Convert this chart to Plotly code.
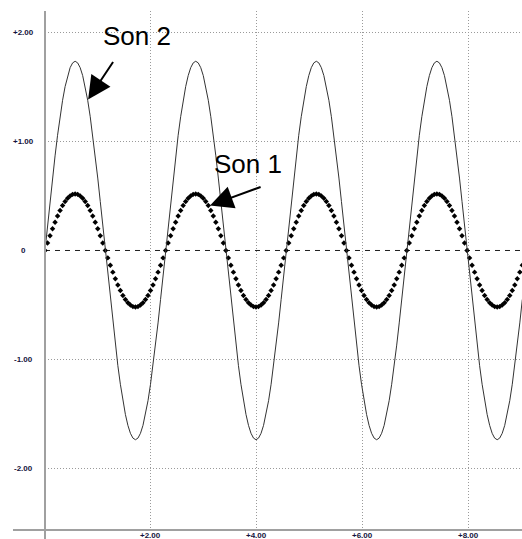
import plotly.graph_objects as go

# Sample spacing of both recordings (time axis)
t_step = 0.0475

# Son 1 : low-amplitude tone, drawn as a dotted trace
son1 = [
    0, 0.068, 0.135, 0.199, 0.26, 0.317, 0.368, 0.413, 0.45, 0.48, 0.502, 0.516,
    0.52, 0.516, 0.502, 0.48, 0.45, 0.413, 0.368, 0.317, 0.26, 0.199, 0.135, 0.068,
    0, -0.068, -0.135, -0.199, -0.26, -0.317, -0.368, -0.413, -0.45, -0.48, -0.502, -0.516,
    -0.52, -0.516, -0.502, -0.48, -0.45, -0.413, -0.368, -0.317, -0.26, -0.199, -0.135, -0.068,
    0, 0.068, 0.135, 0.199, 0.26, 0.317, 0.368, 0.413, 0.45, 0.48, 0.502, 0.516,
    0.52, 0.516, 0.502, 0.48, 0.45, 0.413, 0.368, 0.317, 0.26, 0.199, 0.135, 0.068,
    0, -0.068, -0.135, -0.199, -0.26, -0.317, -0.368, -0.413, -0.45, -0.48, -0.502, -0.516,
    -0.52, -0.516, -0.502, -0.48, -0.45, -0.413, -0.368, -0.317, -0.26, -0.199, -0.135, -0.068,
    0, 0.068, 0.135, 0.199, 0.26, 0.317, 0.368, 0.413, 0.45, 0.48, 0.502, 0.516,
    0.52, 0.516, 0.502, 0.48, 0.45, 0.413, 0.368, 0.317, 0.26, 0.199, 0.135, 0.068,
    0, -0.068, -0.135, -0.199, -0.26, -0.317, -0.368, -0.413, -0.45, -0.48, -0.502, -0.516,
    -0.52, -0.516, -0.502, -0.48, -0.45, -0.413, -0.368, -0.317, -0.26, -0.199, -0.135, -0.068,
    0, 0.068, 0.135, 0.199, 0.26, 0.317, 0.368, 0.413, 0.45, 0.48, 0.502, 0.516,
    0.52, 0.516, 0.502, 0.48, 0.45, 0.413, 0.368, 0.317, 0.26, 0.199, 0.135, 0.068,
    0, -0.068, -0.135, -0.199, -0.26, -0.317, -0.368, -0.413, -0.45, -0.48, -0.502, -0.516,
    -0.52, -0.516, -0.502, -0.48, -0.45, -0.413, -0.368, -0.317, -0.26, -0.199, -0.135,
]

# Son 2 : high-amplitude tone, drawn as a thin line
son2 = [
    0, 0.227, 0.45, 0.666, 0.87, 1.059, 1.23, 1.381, 1.507, 1.608, 1.681, 1.725,
    1.74, 1.725, 1.681, 1.608, 1.507, 1.381, 1.23, 1.059, 0.87, 0.666, 0.45, 0.227,
    0, -0.227, -0.45, -0.666, -0.87, -1.059, -1.23, -1.381, -1.507, -1.608, -1.681, -1.725,
    -1.74, -1.725, -1.681, -1.608, -1.507, -1.381, -1.23, -1.059, -0.87, -0.666, -0.45, -0.227,
    0, 0.227, 0.45, 0.666, 0.87, 1.059, 1.23, 1.381, 1.507, 1.608, 1.681, 1.725,
    1.74, 1.725, 1.681, 1.608, 1.507, 1.381, 1.23, 1.059, 0.87, 0.666, 0.45, 0.227,
    0, -0.227, -0.45, -0.666, -0.87, -1.059, -1.23, -1.381, -1.507, -1.608, -1.681, -1.725,
    -1.74, -1.725, -1.681, -1.608, -1.507, -1.381, -1.23, -1.059, -0.87, -0.666, -0.45, -0.227,
    0, 0.227, 0.45, 0.666, 0.87, 1.059, 1.23, 1.381, 1.507, 1.608, 1.681, 1.725,
    1.74, 1.725, 1.681, 1.608, 1.507, 1.381, 1.23, 1.059, 0.87, 0.666, 0.45, 0.227,
    0, -0.227, -0.45, -0.666, -0.87, -1.059, -1.23, -1.381, -1.507, -1.608, -1.681, -1.725,
    -1.74, -1.725, -1.681, -1.608, -1.507, -1.381, -1.23, -1.059, -0.87, -0.666, -0.45, -0.227,
    0, 0.227, 0.45, 0.666, 0.87, 1.059, 1.23, 1.381, 1.507, 1.608, 1.681, 1.725,
    1.74, 1.725, 1.681, 1.608, 1.507, 1.381, 1.23, 1.059, 0.87, 0.666, 0.45, 0.227,
    0, -0.227, -0.45, -0.666, -0.87, -1.059, -1.23, -1.381, -1.507, -1.608, -1.681, -1.725,
    -1.74, -1.725, -1.681, -1.608, -1.507, -1.381, -1.23, -1.059, -0.87, -0.666, -0.45,
]

t = [round(i * t_step, 4) for i in range(len(son1))]

x_ticks = [2, 4, 6, 8]
x_tick_text = ["+2.00", "+4.00", "+6.00", "+8.00"]
y_ticks = [2, 1, 0, -1, -2]
y_tick_text = ["+2.00", "+1.00", "0", "-1.00", "-2.00"]

X_RANGE = [0, 9.019]
Y_RANGE = [-2.570, 2.202]

TICK_FONT = dict(family="Arial, Liberation Sans, sans-serif", size=8,
                 color="#14143c", weight="bold")
LABEL_FONT = dict(family="Arial, Liberation Sans, sans-serif", size=26, color="black")
AXIS_GREY = "#a0a0a0"

fig = go.Figure()
fig.add_trace(go.Scatter(
    x=t, y=son1, mode="markers", name="Son 1",
    marker=dict(symbol="diamond", size=4.2, color="black", line=dict(width=0)),
    hoverinfo="skip",
))
fig.add_trace(go.Scatter(
    x=t, y=son2, mode="lines", name="Son 2",
    line=dict(color="#333333", width=1),
    hoverinfo="skip",
))

grid = dict(showgrid=True, gridcolor="#9a9a9a", gridwidth=1, griddash="1px,2px",
            zeroline=False, showline=False, ticks="", showticklabels=False,
            fixedrange=True)

fig.update_layout(
    width=522, height=539,
    margin=dict(l=45, r=0, t=11, b=9, autoexpand=False),
    paper_bgcolor="white", plot_bgcolor="white",
    showlegend=False,
    xaxis=dict(range=X_RANGE, tickvals=x_ticks, **grid),
    yaxis=dict(range=Y_RANGE, tickvals=[v for v in y_ticks if v != 0], **grid),
)

shapes = [
    # dashed zero line
    dict(type="line", xref="paper", x0=0, x1=1, yref="y", y0=0, y1=0,
         line=dict(color="#222222", width=1, dash="5px,5px"), layer="below"),
    # vertical axis line (runs past the bottom edge)
    dict(type="line", xref="paper", x0=0, x1=0, yref="paper", y0=-0.0174, y1=1,
         line=dict(color=AXIS_GREY, width=2)),
    # horizontal axis line (runs past the left edge)
    dict(type="line", xref="paper", x0=-0.0671, x1=1, yref="paper", y0=0, y1=0,
         line=dict(color=AXIS_GREY, width=2)),
]
fig.update_layout(shapes=shapes)

annotations = []
for v, txt in zip(y_ticks, y_tick_text):
    annotations.append(dict(x=-0.0461, xref="paper", y=v, yref="y", text=txt,
                            showarrow=False, xanchor="center", yanchor="middle",
                            font=TICK_FONT))
for v, txt in zip(x_ticks, x_tick_text):
    annotations.append(dict(x=v, xref="x", y=0.0015, yref="paper", text=txt,
                            showarrow=False, xanchor="center", yanchor="top",
                            font=TICK_FONT))

# series labels
annotations.append(dict(x=1.732, y=1.968, xref="x", yref="y", text="Son 2",
                        showarrow=False, xanchor="center", yanchor="middle",
                        font=LABEL_FONT))
annotations.append(dict(x=3.84, y=0.795, xref="x", yref="y", text="Son 1",
                        showarrow=False, xanchor="center", yanchor="middle",
                        font=LABEL_FONT))
# pointer arrows
annotations.append(dict(x=0.815, y=1.389, xref="x", yref="y",
                        ax=1.306, ay=1.747, axref="x", ayref="y", text="",
                        showarrow=True, arrowhead=2, arrowsize=2.3, arrowwidth=2,
                        arrowcolor="black", standoff=0))
annotations.append(dict(x=3.12, y=0.414, xref="x", yref="y",
                        ax=4.105, ay=0.589, axref="x", ayref="y", text="",
                        showarrow=True, arrowhead=2, arrowsize=2.3, arrowwidth=2,
                        arrowcolor="black", standoff=0))
fig.update_layout(annotations=annotations)

fig.write_html("out.html", config=dict(displayModeBar=False))
